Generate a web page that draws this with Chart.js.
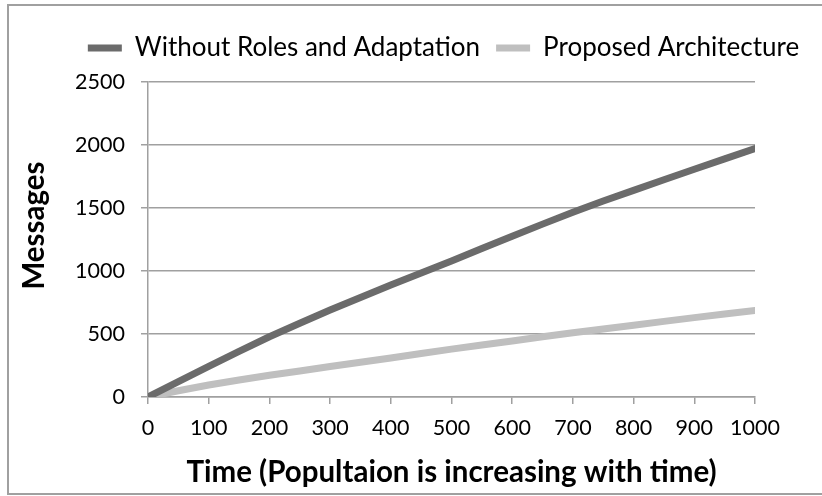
<!DOCTYPE html>
<html>
<head>
<meta charset="utf-8">
<script src="https://cdn.jsdelivr.net/npm/chart.js@4.4.1/dist/chart.umd.min.js"></script>
<style>
  html, body { margin: 0; padding: 0; background: #ffffff; }
  #wrap { position: relative; width: 822px; height: 496px; }
</style>
</head>
<body>
<div id="wrap"><canvas id="chart" width="822" height="496"></canvas></div>
<script>
// Time steps (population grows with time)
const timeSteps = [0, 50, 100, 150, 200, 250, 300, 350, 400, 450, 500,
                   550, 600, 650, 700, 750, 800, 850, 900, 950, 1000];

// Messages exchanged without roles and adaptation
const messagesBaseline = [0, 122, 243, 362, 478, 585, 690, 790, 888, 985, 1080,
                          1178, 1275, 1372, 1466, 1555, 1640, 1724, 1808, 1890, 1972];

// Messages exchanged with the proposed architecture
const messagesProposed = [0, 50, 95, 135, 172, 207, 242, 276, 310, 345, 380,
                          412, 445, 478, 510, 540, 570, 600, 630, 658, 686];

const seriesNames = ['Without Roles and Adaptation', 'Proposed Architecture'];
const xTickValues = [0, 100, 200, 300, 400, 500, 600, 700, 800, 900, 1000];
const yTickValues = [0, 500, 1000, 1500, 2000, 2500];
const xAxisTitle = 'Time (Popultaion is increasing with time)';
const yAxisTitle = 'Messages';

const FONT = 'Lato, "Open Sans", sans-serif';

function toPoints(values) {
  return timeSteps.map((t, i) => ({ x: t, y: values[i] }));
}

// Frame around the whole chart, legend placement and the vertical axis title
const framePlugin = {
  id: 'frame',
  afterLayout(chart) {
    const lg = chart.legend;
    lg.left += 66; lg.right += 66;
    lg.top -= 11; lg.bottom -= 11;
  },
  beforeDraw(chart) {
    const ctx = chart.ctx;
    ctx.save();
    ctx.fillStyle = '#ffffff';
    ctx.fillRect(0, 0, chart.width, chart.height);
    ctx.strokeStyle = '#a0a0a0';
    ctx.lineWidth = 2;
    ctx.beginPath();
    ctx.moveTo(chart.width + 5, 5);
    ctx.lineTo(8, 5);
    ctx.lineTo(8, 494);
    ctx.lineTo(chart.width + 5, 494);
    ctx.stroke();
    ctx.restore();
  },
  afterDraw(chart) {
    const ctx = chart.ctx;
    const area = chart.chartArea;
    ctx.save();
    ctx.translate(34, (area.top + area.bottom) / 2 - 14);
    ctx.rotate(-Math.PI / 2);
    ctx.textAlign = 'center';
    ctx.textBaseline = 'middle';
    ctx.fillStyle = '#000000';
    ctx.font = 'bold 29.5px ' + FONT;
    ctx.fillText(yAxisTitle, 0, 0);
    ctx.restore();
  }
};

new Chart(document.getElementById('chart'), {
  type: 'line',
  data: {
    datasets: [
      {
        label: seriesNames[0],
        data: toPoints(messagesBaseline),
        borderColor: '#6b6b6b',
        backgroundColor: '#6b6b6b',
        borderWidth: 7,
        borderCapStyle: 'round',
        borderJoinStyle: 'round',
        pointRadius: 0,
        tension: 0
      },
      {
        label: seriesNames[1],
        data: toPoints(messagesProposed),
        borderColor: '#bfbfbf',
        backgroundColor: '#bfbfbf',
        borderWidth: 7,
        borderCapStyle: 'round',
        borderJoinStyle: 'round',
        pointRadius: 0,
        tension: 0
      }
    ]
  },
  options: {
    responsive: false,
    animation: false,
    layout: { padding: { top: 30, right: 67, bottom: 0, left: 0 } },
    plugins: {
      tooltip: { enabled: false },
      legend: {
        position: 'top',
        align: 'center',
        labels: {
          usePointStyle: true,
          pointStyle: 'line',
          pointStyleWidth: 34,
          boxHeight: 26,
          padding: 16,
          color: '#000000',
          font: { family: FONT, size: 26 }
        }
      }
    },
    scales: {
      x: {
        type: 'linear',
        min: 0,
        max: 1000,
        afterBuildTicks(scale) { scale.ticks = xTickValues.map(v => ({ value: v })); },
        afterFit(scale) { scale.height = 99; },
        grid: {
          drawOnChartArea: false,
          drawTicks: true,
          tickLength: 7,
          color: '#a0a0a0',
          lineWidth: 1.5
        },
        border: { color: '#a0a0a0', width: 1.5 },
        ticks: {
          color: '#000000',
          padding: 11,
          maxRotation: 0,
          callback: (v) => String(v),
          font: { family: FONT, size: 21.5 }
        },
        title: {
          display: true,
          text: xAxisTitle,
          color: '#000000',
          padding: { top: 0, bottom: 6 },
          font: { family: FONT, size: 29.5, weight: 'bold' }
        }
      },
      y: {
        min: 0,
        max: 2500,
        afterBuildTicks(scale) { scale.ticks = yTickValues.map(v => ({ value: v })); },
        afterFit(scale) { scale.width = 148; },
        grid: {
          drawOnChartArea: true,
          drawTicks: true,
          tickLength: 7,
          color: '#a0a0a0',
          lineWidth: 1.5
        },
        border: { color: '#a0a0a0', width: 1.5 },
        ticks: {
          color: '#000000',
          padding: 16,
          callback: (v) => String(v),
          font: { family: FONT, size: 21.5 }
        },
        title: { display: false }
      }
    }
  },
  plugins: [framePlugin]
});
</script>
</body>
</html>
